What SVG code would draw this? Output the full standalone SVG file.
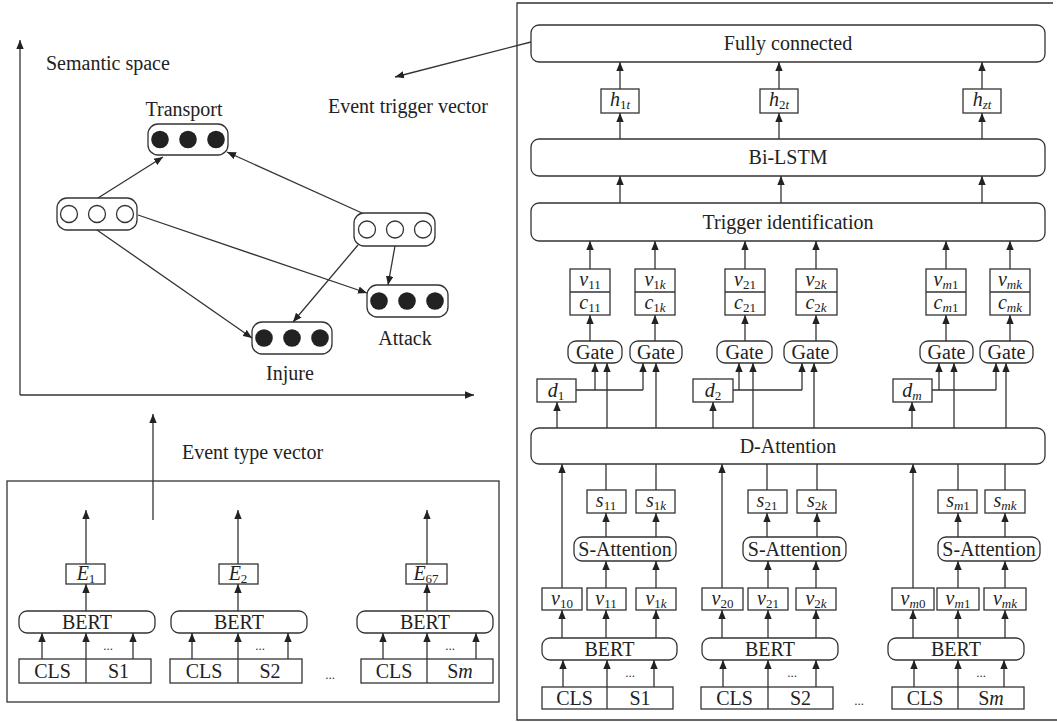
<svg xmlns="http://www.w3.org/2000/svg" width="1057" height="722" viewBox="0 0 1057 722">
<defs>
<marker id="ah" markerUnits="userSpaceOnUse" markerWidth="9" markerHeight="8" refX="9" refY="4" orient="auto" viewBox="0 0 9 8"><path d="M0,0.3 L9,4 L0,7.7 z" fill="#222"/></marker>
</defs>
<style>
.ln{stroke:#333;stroke-width:1.3;fill:none}
.ar{stroke:#333;stroke-width:1.3;fill:none;marker-end:url(#ah)}
.bx{fill:#fff;stroke:#333;stroke-width:1.3}
.t{font-family:"Liberation Serif","Times New Roman",serif;font-size:20px;fill:#222}
.c{text-anchor:middle}
.i{font-style:italic}
.sb{font-size:13px}
.sd{font-family:"Liberation Serif",serif;font-size:13px;fill:#333;text-anchor:middle}
.dot{fill:#222}
.hol{fill:#fff;stroke:#333;stroke-width:1.3}
</style>
<rect width="1057" height="722" fill="#fff"/>

<!-- Left top: semantic space -->
<g id="axes">
<path class="ar" d="M20,395 V40"/>
<path class="ar" d="M20,395 H474"/>
<text class="t" x="46" y="70">Semantic space</text>
<text class="t" x="328" y="113">Event trigger vector</text>
</g>
<g id="node-transport">
<rect class="bx" x="148" y="124" width="80" height="31" rx="10"/>
<circle class="dot" cx="160" cy="139.5" r="8.8"/><circle class="dot" cx="188" cy="139.5" r="8.8"/><circle class="dot" cx="216" cy="139.5" r="8.8"/>
<text class="t c" x="184" y="116">Transport</text>
</g>
<g id="node-left-hollow">
<rect class="bx" x="57" y="198" width="80" height="32" rx="10"/>
<circle class="hol" cx="69" cy="214" r="8.5"/><circle class="hol" cx="97" cy="214" r="8.5"/><circle class="hol" cx="125" cy="214" r="8.5"/>
</g>
<g id="node-right-hollow">
<rect class="bx" x="354" y="213" width="81" height="33" rx="10"/>
<circle class="hol" cx="367" cy="229.5" r="8.5"/><circle class="hol" cx="395" cy="229.5" r="8.5"/><circle class="hol" cx="423" cy="229.5" r="8.5"/>
</g>
<g id="node-attack">
<rect class="bx" x="367" y="285" width="81" height="32" rx="10"/>
<circle class="dot" cx="379" cy="301" r="8.8"/><circle class="dot" cx="407" cy="301" r="8.8"/><circle class="dot" cx="435" cy="301" r="8.8"/>
<text class="t c" x="405" y="345">Attack</text>
</g>
<g id="node-injure">
<rect class="bx" x="252" y="322" width="80" height="32" rx="10"/>
<circle class="dot" cx="264" cy="338" r="8.8"/><circle class="dot" cx="292" cy="338" r="8.8"/><circle class="dot" cx="320" cy="338" r="8.8"/>
<text class="t c" x="290" y="380">Injure</text>
</g>

<!-- Left bottom: event type -->
<g id="event-type-panel">
<rect x="7" y="481" width="492" height="221" fill="none" stroke="#333" stroke-width="1.3"/>
<text class="t" x="182" y="459">Event type vector</text>
</g>
<g id="et-group1">
<rect class="bx" x="66" y="564" width="39" height="20"/>
<text class="t c" x="86" y="580"><tspan class="i">E</tspan><tspan class="sb" dy="3">1</tspan></text>
<rect class="bx" x="19" y="611" width="136" height="22" rx="8"/>
<text class="t c" x="87" y="629">BERT</text>
<rect class="bx" x="19" y="659" width="132" height="24"/>
<text class="t c" x="52.5" y="678">CLS</text>
<text class="t c" x="118.5" y="678">S1</text>
<text class="sd" x="108" y="650">...</text>
</g>
<g id="et-group2">
<rect class="bx" x="219" y="564" width="39" height="20"/>
<text class="t c" x="238" y="580"><tspan class="i">E</tspan><tspan class="sb" dy="3">2</tspan></text>
<rect class="bx" x="171" y="611" width="136" height="22" rx="8"/>
<text class="t c" x="239" y="629">BERT</text>
<rect class="bx" x="170" y="659" width="132" height="24"/>
<text class="t c" x="204" y="678">CLS</text>
<text class="t c" x="270" y="678">S2</text>
<text class="sd" x="260" y="650">...</text>
</g>
<text class="sd" x="330" y="679">...</text>
<g id="et-group3">
<rect class="bx" x="406" y="564" width="41" height="20"/>
<text class="t c" x="426" y="580"><tspan class="i">E</tspan><tspan class="sb" dy="3">67</tspan></text>
<rect class="bx" x="357" y="611" width="136" height="22" rx="8"/>
<text class="t c" x="425" y="629">BERT</text>
<rect class="bx" x="361" y="659" width="132" height="24"/>
<text class="t c" x="394" y="678">CLS</text>
<text class="t c" x="460" y="678">S<tspan class="i">m</tspan></text>
<text class="sd" x="450" y="650">...</text>
</g>

<!-- Right panel -->
<path class="ln" d="M1053,3 H517 V720 H1057"/>
<g id="fully-connected"><rect class="bx" x="531" y="25" width="514" height="37" rx="8"/><text class="t c" x="788" y="50">Fully connected</text></g>
<g id="h1t"><rect class="bx" x="601" y="89" width="38" height="24"/><text class="t c" x="620" y="106"><tspan class="i">h</tspan><tspan class="sb" dy="3">1</tspan><tspan class="sb i">t</tspan></text></g>
<g id="h2t"><rect class="bx" x="760" y="89" width="38" height="24"/><text class="t c" x="779" y="106"><tspan class="i">h</tspan><tspan class="sb" dy="3">2</tspan><tspan class="sb i">t</tspan></text></g>
<g id="hzt"><rect class="bx" x="963" y="89" width="38" height="24"/><text class="t c" x="982" y="106"><tspan class="i">h</tspan><tspan class="sb i" dy="3">zt</tspan></text></g>
<g id="bilstm"><rect class="bx" x="531" y="139" width="514" height="37" rx="8"/><text class="t c" x="788" y="164">Bi-LSTM</text></g>
<g id="trigger-identification"><rect class="bx" x="531" y="203" width="514" height="38" rx="8"/><text class="t c" x="788" y="229">Trigger identification</text></g>

<g id="vc11"><rect class="bx" x="570" y="269" width="40" height="46"/><path class="ln" d="M570,292 H610"/>
<text class="t c" x="590" y="286"><tspan class="i">v</tspan><tspan class="sb" dy="3">11</tspan></text>
<text class="t c" x="590" y="309"><tspan class="i">c</tspan><tspan class="sb" dy="3">11</tspan></text></g>
<g id="vc1k"><rect class="bx" x="635" y="269" width="40" height="46"/><path class="ln" d="M635,292 H675"/>
<text class="t c" x="655" y="286"><tspan class="i">v</tspan><tspan class="sb" dy="3">1</tspan><tspan class="sb i">k</tspan></text>
<text class="t c" x="655" y="309"><tspan class="i">c</tspan><tspan class="sb" dy="3">1</tspan><tspan class="sb i">k</tspan></text></g>
<g id="vc21"><rect class="bx" x="725" y="269" width="40" height="46"/><path class="ln" d="M725,292 H765"/>
<text class="t c" x="745" y="286"><tspan class="i">v</tspan><tspan class="sb" dy="3">21</tspan></text>
<text class="t c" x="745" y="309"><tspan class="i">c</tspan><tspan class="sb" dy="3">21</tspan></text></g>
<g id="vc2k"><rect class="bx" x="796" y="269" width="41" height="46"/><path class="ln" d="M796,292 H837"/>
<text class="t c" x="816" y="286"><tspan class="i">v</tspan><tspan class="sb" dy="3">2</tspan><tspan class="sb i">k</tspan></text>
<text class="t c" x="816" y="309"><tspan class="i">c</tspan><tspan class="sb" dy="3">2</tspan><tspan class="sb i">k</tspan></text></g>
<g id="vcm1"><rect class="bx" x="926" y="269" width="40" height="46"/><path class="ln" d="M926,292 H966"/>
<text class="t c" x="946" y="286"><tspan class="i">v</tspan><tspan class="sb i" dy="3">m</tspan><tspan class="sb">1</tspan></text>
<text class="t c" x="946" y="309"><tspan class="i">c</tspan><tspan class="sb i" dy="3">m</tspan><tspan class="sb">1</tspan></text></g>
<g id="vcmk"><rect class="bx" x="990" y="269" width="40" height="46"/><path class="ln" d="M990,292 H1030"/>
<text class="t c" x="1010" y="286"><tspan class="i">v</tspan><tspan class="sb i" dy="3">mk</tspan></text>
<text class="t c" x="1010" y="309"><tspan class="i">c</tspan><tspan class="sb i" dy="3">mk</tspan></text></g>

<g id="gate1"><rect class="bx" x="568" y="341" width="54" height="22" rx="8"/><text class="t c" x="595" y="359">Gate</text></g>
<g id="gate2"><rect class="bx" x="630" y="341" width="52" height="22" rx="8"/><text class="t c" x="656" y="359">Gate</text></g>
<g id="gate3"><rect class="bx" x="717" y="341" width="55" height="22" rx="8"/><text class="t c" x="744.5" y="359">Gate</text></g>
<g id="gate4"><rect class="bx" x="784" y="341" width="53" height="22" rx="8"/><text class="t c" x="810.5" y="359">Gate</text></g>
<g id="gate5"><rect class="bx" x="920" y="341" width="53" height="22" rx="8"/><text class="t c" x="946.5" y="359">Gate</text></g>
<g id="gate6"><rect class="bx" x="980" y="341" width="53" height="22" rx="8"/><text class="t c" x="1006.5" y="359">Gate</text></g>

<g id="d1"><rect class="bx" x="537" y="379" width="39" height="23"/><text class="t c" x="556" y="397"><tspan class="i">d</tspan><tspan class="sb" dy="3">1</tspan></text></g>
<g id="d2"><rect class="bx" x="693" y="379" width="40" height="23"/><text class="t c" x="713" y="397"><tspan class="i">d</tspan><tspan class="sb" dy="3">2</tspan></text></g>
<g id="dm"><rect class="bx" x="893" y="379" width="39" height="23"/><text class="t c" x="912" y="397"><tspan class="i">d</tspan><tspan class="sb i" dy="3">m</tspan></text></g>

<g id="d-attention"><rect class="bx" x="531" y="428" width="514" height="36" rx="8"/><text class="t c" x="788" y="453">D-Attention</text></g>

<g id="s11"><rect class="bx" x="587" y="490" width="39" height="23"/><text class="t c" x="606" y="507"><tspan class="i">s</tspan><tspan class="sb" dy="3">11</tspan></text></g>
<g id="s1k"><rect class="bx" x="636" y="490" width="39" height="23"/><text class="t c" x="656" y="507"><tspan class="i">s</tspan><tspan class="sb" dy="3">1</tspan><tspan class="sb i">k</tspan></text></g>
<g id="s21"><rect class="bx" x="748" y="490" width="39" height="23"/><text class="t c" x="767" y="507"><tspan class="i">s</tspan><tspan class="sb" dy="3">21</tspan></text></g>
<g id="s2k"><rect class="bx" x="797" y="490" width="39" height="23"/><text class="t c" x="817" y="507"><tspan class="i">s</tspan><tspan class="sb" dy="3">2</tspan><tspan class="sb i">k</tspan></text></g>
<g id="sm1"><rect class="bx" x="938" y="490" width="39" height="23"/><text class="t c" x="958" y="507"><tspan class="i">s</tspan><tspan class="sb i" dy="3">m</tspan><tspan class="sb">1</tspan></text></g>
<g id="smk"><rect class="bx" x="985" y="490" width="40" height="23"/><text class="t c" x="1005" y="507"><tspan class="i">s</tspan><tspan class="sb i" dy="3">mk</tspan></text></g>

<g id="s-attention1"><rect class="bx" x="574" y="537" width="102" height="24" rx="8"/><text class="t c" x="625" y="556">S-Attention</text></g>
<g id="s-attention2"><rect class="bx" x="743" y="537" width="103" height="24" rx="8"/><text class="t c" x="794.5" y="556">S-Attention</text></g>
<g id="s-attention3"><rect class="bx" x="938" y="537" width="102" height="24" rx="8"/><text class="t c" x="989" y="556">S-Attention</text></g>

<g id="v10"><rect class="bx" x="542" y="588" width="40" height="22"/><text class="t c" x="562" y="605"><tspan class="i">v</tspan><tspan class="sb" dy="3">10</tspan></text></g>
<g id="v11"><rect class="bx" x="587" y="588" width="39" height="22"/><text class="t c" x="606" y="605"><tspan class="i">v</tspan><tspan class="sb" dy="3">11</tspan></text></g>
<g id="v1k"><rect class="bx" x="636" y="588" width="40" height="22"/><text class="t c" x="656" y="605"><tspan class="i">v</tspan><tspan class="sb" dy="3">1</tspan><tspan class="sb i">k</tspan></text></g>
<g id="v20"><rect class="bx" x="702" y="588" width="41" height="22"/><text class="t c" x="722.5" y="605"><tspan class="i">v</tspan><tspan class="sb" dy="3">20</tspan></text></g>
<g id="v21"><rect class="bx" x="748" y="588" width="40" height="22"/><text class="t c" x="768" y="605"><tspan class="i">v</tspan><tspan class="sb" dy="3">21</tspan></text></g>
<g id="v2k"><rect class="bx" x="796" y="588" width="40" height="22"/><text class="t c" x="816" y="605"><tspan class="i">v</tspan><tspan class="sb" dy="3">2</tspan><tspan class="sb i">k</tspan></text></g>
<g id="vm0"><rect class="bx" x="892" y="588" width="42" height="22"/><text class="t c" x="913" y="605"><tspan class="i">v</tspan><tspan class="sb i" dy="3">m</tspan><tspan class="sb">0</tspan></text></g>
<g id="vm1"><rect class="bx" x="937" y="588" width="42" height="22"/><text class="t c" x="958" y="605"><tspan class="i">v</tspan><tspan class="sb i" dy="3">m</tspan><tspan class="sb">1</tspan></text></g>
<g id="vmk"><rect class="bx" x="984" y="588" width="42" height="22"/><text class="t c" x="1005" y="605"><tspan class="i">v</tspan><tspan class="sb i" dy="3">mk</tspan></text></g>

<g id="bert1"><rect class="bx" x="542" y="638" width="135" height="22" rx="8"/><text class="t c" x="609.5" y="656">BERT</text></g>
<g id="bert2"><rect class="bx" x="702" y="638" width="136" height="22" rx="8"/><text class="t c" x="770" y="656">BERT</text></g>
<g id="bert3"><rect class="bx" x="888" y="638" width="136" height="22" rx="8"/><text class="t c" x="956" y="656">BERT</text></g>

<g id="input1"><rect class="bx" x="542" y="687" width="131" height="22"/><text class="t c" x="574.5" y="705">CLS</text><text class="t c" x="640" y="705">S1</text><text class="sd" x="630" y="677">...</text></g>
<g id="input2"><rect class="bx" x="701" y="687" width="132" height="22"/><text class="t c" x="734.5" y="705">CLS</text><text class="t c" x="800.5" y="705">S2</text><text class="sd" x="792" y="677">...</text></g>
<text class="sd" x="859" y="705">...</text>
<g id="input3"><rect class="bx" x="892" y="687" width="132" height="22"/><text class="t c" x="925" y="705">CLS</text><text class="t c" x="991" y="705">S<tspan class="i">m</tspan></text><text class="sd" x="981" y="677">...</text></g>

<!-- Connectors -->
<g id="connectors">
<path class="ar" d="M98,198 L163,157"/>
<path class="ar" d="M362,213 L227,152"/>
<path class="ar" d="M138,215 L367,293"/>
<path class="ar" d="M97,230 L252,338"/>
<path class="ar" d="M358,245 L293,322"/>
<path class="ar" d="M395,246 L388,285"/>
<path class="ar" d="M531,42 L395,77"/>
<path class="ar" d="M153,520 V414"/>
<!-- left bottom groups -->
<path class="ar" d="M86,611 V584"/><path class="ar" d="M86,564 V510"/>
<path class="ar" d="M42,659 V633"/><path class="ar" d="M86,683 V633"/><path class="ar" d="M133,659 V633"/>
<path class="ar" d="M238,611 V584"/><path class="ar" d="M238,564 V510"/>
<path class="ar" d="M192,659 V633"/><path class="ar" d="M238,683 V633"/><path class="ar" d="M288,659 V633"/>
<path class="ar" d="M427,611 V584"/><path class="ar" d="M427,564 V510"/>
<path class="ar" d="M383,659 V633"/><path class="ar" d="M427,683 V633"/><path class="ar" d="M476,659 V633"/>
<!-- right: top -->
<path class="ar" d="M620,89 V62"/><path class="ar" d="M779,89 V62"/><path class="ar" d="M982,89 V62"/>
<path class="ar" d="M620,139 V113"/><path class="ar" d="M779,139 V113"/><path class="ar" d="M982,139 V113"/>
<path class="ar" d="M620,203 V176"/><path class="ar" d="M781,203 V176"/><path class="ar" d="M982,203 V176"/>
<!-- vc to trigger -->
<path class="ar" d="M590,269 V241"/><path class="ar" d="M655,269 V241"/><path class="ar" d="M745,269 V241"/><path class="ar" d="M816,269 V241"/><path class="ar" d="M946,269 V241"/><path class="ar" d="M1010,269 V241"/>
<!-- gate to vc -->
<path class="ar" d="M590,341 V315"/><path class="ar" d="M655,341 V315"/><path class="ar" d="M745,341 V315"/><path class="ar" d="M816,341 V315"/><path class="ar" d="M946,341 V315"/><path class="ar" d="M1010,341 V315"/>
<!-- d branches -->
<path class="ln" d="M576,390 H643"/><path class="ar" d="M595,390 V363"/><path class="ar" d="M643,390 V363"/>
<path class="ln" d="M733,390 H802"/><path class="ar" d="M739,390 V363"/><path class="ar" d="M802,390 V363"/>
<path class="ln" d="M932,390 H996"/><path class="ar" d="M939,390 V363"/><path class="ar" d="M996,390 V363"/>
<!-- D-Attention up -->
<path class="ar" d="M557,428 V402"/><path class="ar" d="M713,428 V402"/><path class="ar" d="M912,428 V402"/>
<path class="ar" d="M607,428 V363"/><path class="ar" d="M656,428 V363"/>
<path class="ar" d="M753,428 V363"/><path class="ar" d="M814,428 V363"/>
<path class="ar" d="M954,428 V363"/><path class="ar" d="M1006,428 V363"/>
<!-- s to D-Attention (plain) -->
<path class="ln" d="M606,490 V464"/><path class="ln" d="M656,490 V464"/>
<path class="ln" d="M767,490 V464"/><path class="ln" d="M817,490 V464"/>
<path class="ln" d="M958,490 V464"/><path class="ln" d="M1005,490 V464"/>
<!-- S-Attention to s -->
<path class="ar" d="M606,537 V513"/><path class="ar" d="M656,537 V513"/>
<path class="ar" d="M767,537 V513"/><path class="ar" d="M817,537 V513"/>
<path class="ar" d="M958,537 V513"/><path class="ar" d="M1005,537 V513"/>
<!-- v to S-Attention / D-Attention -->
<path class="ar" d="M606,588 V561"/><path class="ar" d="M656,588 V561"/>
<path class="ar" d="M768,588 V561"/><path class="ar" d="M816,588 V561"/>
<path class="ar" d="M958,588 V561"/><path class="ar" d="M1005,588 V561"/>
<path class="ar" d="M562,588 V464"/><path class="ar" d="M722,588 V464"/><path class="ar" d="M913,588 V464"/>
<!-- BERT to v -->
<path class="ar" d="M562,638 V610"/><path class="ar" d="M606,638 V610"/><path class="ar" d="M656,638 V610"/>
<path class="ar" d="M722,638 V610"/><path class="ar" d="M768,638 V610"/><path class="ar" d="M816,638 V610"/>
<path class="ar" d="M913,638 V610"/><path class="ar" d="M958,638 V610"/><path class="ar" d="M1005,638 V610"/>
<!-- inputs to BERT -->
<path class="ar" d="M563,687 V660"/><path class="ar" d="M607,709 V660"/><path class="ar" d="M654,687 V660"/>
<path class="ar" d="M723,687 V660"/><path class="ar" d="M768,709 V660"/><path class="ar" d="M816,687 V660"/>
<path class="ar" d="M914,687 V660"/><path class="ar" d="M958,709 V660"/><path class="ar" d="M1004,687 V660"/>
</g>
</svg>
